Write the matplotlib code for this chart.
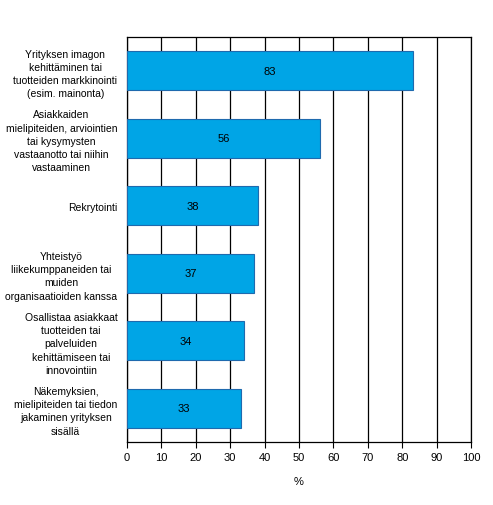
import matplotlib
matplotlib.use("Agg")
import matplotlib.pyplot as plt

categories = [
    "Yrityksen imagon\nkehittäminen tai\ntuotteiden markkinointi\n(esim. mainonta)",
    "Asiakkaiden\nmielipiteiden, arviointien\ntai kysymysten\nvastaanotto tai niihin\nvastaaminen",
    "Rekrytointi",
    "Yhteistyö\nliikekumppaneiden tai\nmuiden\norganisaatioiden kanssa",
    "Osallistaa asiakkaat\ntuotteiden tai\npalveluiden\nkehittämiseen tai\ninnovointiin",
    "Näkemyksien,\nmielipiteiden tai tiedon\njakaminen yrityksen\nsisällä",
]
values = [83, 56, 38, 37, 34, 33]
xticks = [0, 10, 20, 30, 40, 50, 60, 70, 80, 90, 100]

plt.rcParams['font.family'] = ['Liberation Sans', 'DejaVu Sans']
fig = plt.figure(figsize=(4.93, 5.06), dpi=100)
ax = fig.add_axes([127/493, 1-443/506, (471-127)/493, (443-38)/506])

ypos = list(range(len(categories)))
ax.barh(ypos, values, height=0.58, color='#00A5E6', edgecolor='#1F6AAE', linewidth=0.8, zorder=3)
for y, v in zip(ypos, values):
    ax.text(v/2, y, str(v), ha='center', va='center', fontsize=8, zorder=4)

ax.set_xlim(0, 100)
ax.set_ylim(len(categories)-0.5, -0.5)
ax.set_xticks(xticks)
ax.set_xticklabels([str(t) for t in xticks], fontsize=8)
ax.set_yticks(ypos)
ax.set_yticklabels(categories, fontsize=7.5, multialignment='center', linespacing=1.4)
ax.tick_params(axis='y', length=0, pad=7)
ax.tick_params(axis='x', length=4, width=0.8, direction='out', pad=3)
ax.grid(axis='x', color='black', linewidth=0.9, zorder=1)
for s in ax.spines.values():
    s.set_color('black')
    s.set_linewidth(0.9)
ax.set_xlabel('%', fontsize=8, labelpad=10)
fig.savefig('out.png', dpi=100)
